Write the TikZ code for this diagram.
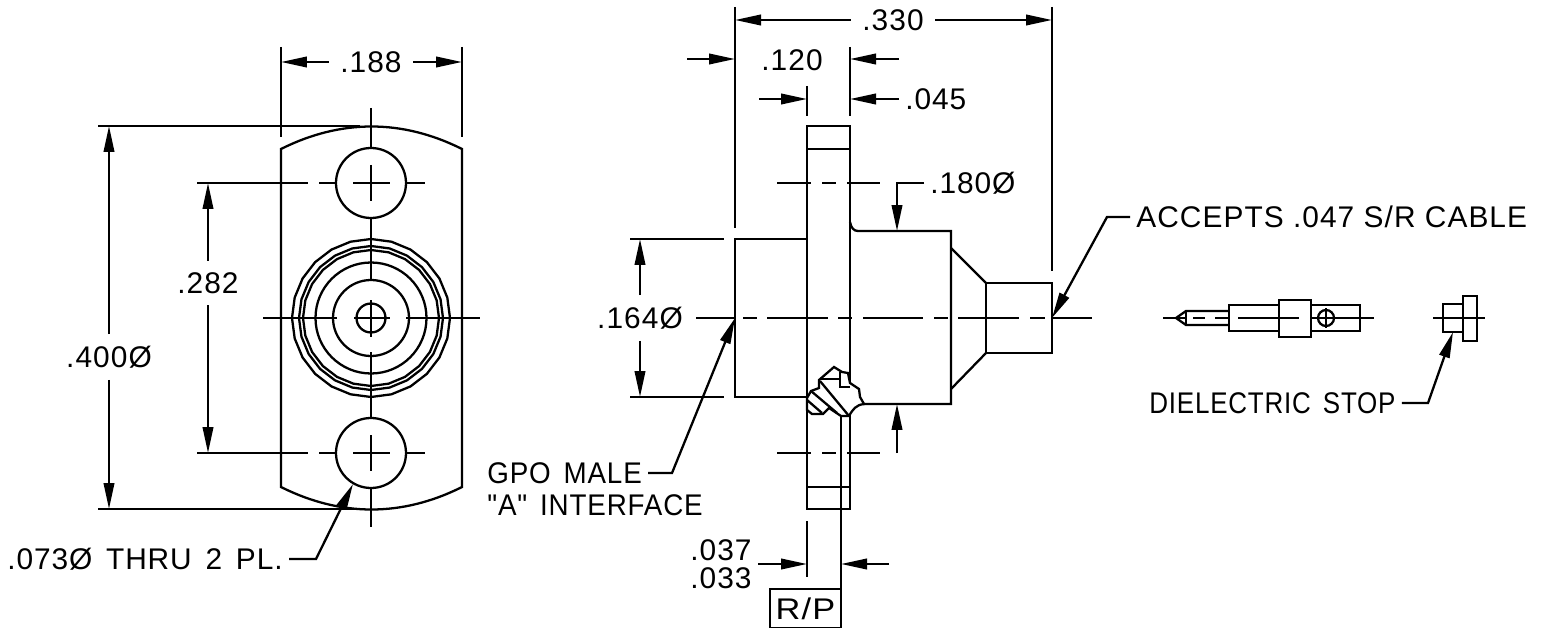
\documentclass[tikz,border=0pt]{standalone}
\usepackage{graphicx}
\usepackage{fontspec}
\setmainfont[LetterSpace=3.5]{Liberation Sans}
\newfontfamily\spacedfont[LetterSpace=3, WordSpace=1.5]{Liberation Sans}
\usetikzlibrary{arrows.meta}

\begin{document}
\begin{tikzpicture}[x=0.02cm, y=-0.02cm, line width=1.3pt,
    n/.style={-{Triangle[length=0.52cm, width=0.21cm]}},
    lbl/.style={font=\fontsize{17}{20}\selectfont, inner sep=6pt},
    tag/.style={font=\fontsize{17}{20}\selectfont\spacedfont, inner sep=3pt, anchor=west}]
    \useasboundingbox (0,0) rectangle (1544,628);
    % front view outline
    \draw (281,149) .. controls (341,119) and (402,119) .. (462,149) -- (462,487)
        .. controls (402,517) and (341,517) .. (281,487) -- cycle;
    \foreach \y in {183,453} {
        \draw (371,\y) circle[radius=35];
        \draw (353,\y) -- (390,\y);
        \draw (371,\y-18) -- (371,\y+18);
        \draw (319,\y) -- (336,\y);
        \draw (406,\y) -- (425,\y);
    }
    % rings
    \foreach \r in {79,72,68} {
        \draw plot[samples=25, domain=0:360] ({371+\r*cos(\x)},{318+\r*sin(\x)}) -- cycle;
    }
    \foreach \r in {55.5,38,14.5} {
        \draw (371,318) circle[radius=\r];
    }
    % center lines
    \draw (371,108) -- (371,148);
    \draw (371,218) -- (371,280);
    \draw (371,300) -- (371,337);
    \draw (371,352) -- (371,418);
    \draw (371,488) -- (371,527);
    \draw (263,318) -- (337,318);
    \draw (354,318) -- (390,318);
    \draw (406,318) -- (480,318);
    % front view dimensions
    \node[lbl] (d188) at (371,62) {.188};
    \coordinate (d188a) at (281,62);
    \coordinate (d188b) at (462,62);
    \draw[n] (d188) -- (d188a);
    \draw[n] (d188) -- (d188b);
    \draw (281,47) -- (281,137);
    \draw (462,47) -- (462,137);
    \node[lbl] (d400) at (109,357) {.400Ø};
    \coordinate (d400a) at (109,126);
    \coordinate (d400b) at (109,509);
    \draw[n] (d400) -- (d400a);
    \draw[n] (d400) -- (d400b);
    \draw (98,126) -- (360,126);
    \draw (98,509) -- (360,509);
    \node[lbl] (d282) at (208,283) {.282};
    \coordinate (d282a) at (208,183);
    \coordinate (d282b) at (208,453);
    \draw[n] (d282) -- (d282a);
    \draw[n] (d282) -- (d282b);
    \draw (197,183) -- (308,183);
    \draw (197,453) -- (308,453);
    \node[tag] (hole) at (1,559) {.073Ø THRU 2 PL.};
    \coordinate (holetip) at (353,484);
    \draw[n] (hole.east) -- (316,559) -- (holetip);
    % side view outline
    \draw (807,126) rectangle (850,509);
    \draw (807,149) -- (850,149);
    \draw (807,487) -- (850,487);
    \draw (735,239) rectangle (807,397);
    \draw (951,248) -- (986,283);
    \draw (951,389) -- (986,353);
    \draw (986,283) rectangle (1052,353);
    \draw (850,222) .. controls (851,228) and (854,231) .. (858,231) -- (951,231) -- (951,404) -- (863,404);
    % broken out part
    \draw[fill=white] (807,398) -- (811,391) -- (819,388) -- (819,380) -- (834,367) -- (842,372) -- (848,373)
        -- (850,383) -- (859,389) -- (860,397) -- (864,404) .. controls (856,405) and (853,409) .. (849,416)
        -- (841,416) -- (829,408) -- (823,414) -- (812,414) -- (807,410) -- cycle;
    \draw (820,379) -- (840,379);
    \draw (820,381) -- (849,416);
    \draw (811,391) -- (837,413);
    \draw (807,400) -- (822,413);
    \draw (840,372) -- (840,387) -- (850,387);
    % side view center lines
    \foreach \xa/\xb in {696/735,743/757,767/828,838/852,863/923,934/948,958/1019,1030/1045,1053/1092} {
        \draw (\xa,318) -- (\xb,318);
    }
    \foreach \y in {183,453} {
        \draw (777,\y) -- (811,\y);
        \draw (822,\y) -- (836,\y);
        \draw (847,\y) -- (880,\y);
    }
    \draw (841,416) -- (841,628);
    % side view dimensions
    \node[lbl] (d330) at (893,20) {.330};
    \coordinate (d330a) at (735,20);
    \coordinate (d330b) at (1052,20);
    \draw[n] (d330) -- (d330a);
    \draw[n] (d330) -- (d330b);
    \draw (735,7) -- (735,228);
    \draw (1052,7) -- (1052,271);
    \node[lbl] (d120) at (792,60) {.120};
    \coordinate (d120a) at (687,59);
    \coordinate (d120b) at (735,59);
    \coordinate (d120c) at (899,59);
    \coordinate (d120d) at (850,59);
    \draw[n] (d120a) -- (d120b);
    \draw[n] (d120c) -- (d120d);
    \draw (850,47) -- (850,116);
    \node[tag] (d045) at (899,99) {.045};
    \coordinate (d045a) at (759,99);
    \coordinate (d045b) at (807,99);
    \coordinate (d045c) at (850,99);
    \draw[n] (d045a) -- (d045b);
    \draw[n] (d045.west) -- (d045c);
    \draw (807,86) -- (807,116);
    \node[lbl] (d164) at (640,318) {.164Ø};
    \coordinate (d164a) at (640,239);
    \coordinate (d164b) at (640,397);
    \draw[n] (d164) -- (d164a);
    \draw[n] (d164) -- (d164b);
    \draw (630,239) -- (724,239);
    \draw (630,397) -- (724,397);
    \node[tag] (d180) at (924,183) {.180Ø};
    \coordinate (d180a) at (897,231);
    \draw[n] (d180.west) -- (897,183) -- (d180a);
    \coordinate (d180b) at (897,453);
    \coordinate (d180c) at (897,404);
    \draw[n] (d180b) -- (d180c);
    \node[lbl, anchor=west, inner sep=3pt] (cable) at (1130,217) {ACCEPTS .047 S/R CABLE};
    \coordinate (cabletip) at (1052,318);
    \draw[n] (cable.west) -- (1107,217) -- (cabletip);
    \node[tag] (gpo) at (481,473) {\scalebox{.93}[1]{GPO MALE}};
    \node[tag] (iface) at (481,505) {\scalebox{.93}[1]{"A" INTERFACE}};
    \coordinate (gpotip) at (735,318);
    \draw[n] (gpo.east) -- (672,473) -- (gpotip);
    \node[lbl, draw, minimum width=1.42cm, minimum height=0.78cm, inner sep=0pt] (rp) at (805.5,608.5) {\scalebox{1.15}[1]{R/P}};
    \node[lbl, inner sep=0pt] (d037) at (721,550) {.037};
    \node[lbl, inner sep=0pt] (d033) at (721,578) {.033};
    \coordinate (d037a) at (758,564);
    \coordinate (d037b) at (807,564);
    \coordinate (d037c) at (889,564);
    \coordinate (d037d) at (841,564);
    \draw[n] (d037a) -- (d037b);
    \draw[n] (d037c) -- (d037d);
    \draw (807,521) -- (807,577);
    % pin
    \draw (1229,305) rectangle (1279,331);
    \draw (1279,300) rectangle (1311,337);
    \draw (1311,305) rectangle (1360,331);
    \draw (1229,311) -- (1186,311) -- (1176,318) -- (1186,325) -- (1229,325);
    \draw (1186,311) -- (1186,325);
    \draw (1326,318) circle[radius=8];
    \draw (1326,308) -- (1326,328);
    \draw (1163,318) -- (1187,318);
    \draw (1193,318) -- (1205,318);
    \draw (1215,318) -- (1229,318);
    \draw (1238,318) -- (1299,318);
    \draw (1311,318) -- (1374,318);
    % stop
    \draw (1443,304) rectangle (1463,332);
    \draw (1463,296) rectangle (1477,341);
    \draw (1433,318) -- (1485,318);
    \node[tag] (stop) at (1143,403) {\scalebox{.87}[1]{DIELECTRIC STOP}};
    \coordinate (stoptip) at (1453,332);
    \draw[n] (stop.east) -- (1428,403) -- (stoptip);
\end{tikzpicture}
\end{document}
